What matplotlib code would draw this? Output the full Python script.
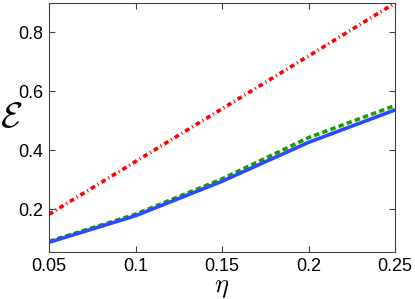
import matplotlib
matplotlib.use("Agg")
import matplotlib.pyplot as plt

plt.rcParams['font.family'] = ['Liberation Sans', 'DejaVu Sans']
plt.rcParams['mathtext.fontset'] = 'cm'

eta = [0.05, 0.1, 0.15, 0.2, 0.25]
blue = [0.088, 0.178, 0.295, 0.427, 0.537]
green = [0.091, 0.183, 0.303, 0.443, 0.552]
red = [0.183, 0.362, 0.541, 0.72, 0.9]

fig = plt.figure(figsize=(4.15, 2.99), dpi=100)
ax = fig.add_axes([49 / 415, 47 / 299, 346 / 415, 249 / 299])

ax.plot(eta, red, color='#ff0000', linewidth=2.6, dashes=[1.3, 0.9, 0.3, 0.9])
ax.plot(eta, green, color='#1a9e00', linewidth=2.6, dashes=[1.5, 0.9])
ax.plot(eta, blue, color='#2a4bff', linestyle='-', linewidth=2.6)

ax.set_xlim(0.05, 0.25)
ax.set_ylim(0.055, 0.9)
ax.set_xticks([0.05, 0.1, 0.15, 0.2, 0.25])
ax.set_xticklabels(['0.05', '0.1', '0.15', '0.2', '0.25'])
ax.set_yticks([0.2, 0.4, 0.6, 0.8])
ax.set_yticklabels(['0.2', '0.4', '0.6', '0.8'])
ax.tick_params(direction='in', top=True, right=True, labelsize=13,
               length=4, color='#444444', pad=4)
for s in ax.spines.values():
    s.set_color('#444444')

ax.set_xlabel(r'$\eta$', fontsize=19)
ax.xaxis.set_label_coords(0.5, -0.095)
ax.set_ylabel(r'$\mathcal{E}$', fontsize=26, rotation=0)
ax.yaxis.set_label_coords(-0.11, 0.47)

fig.savefig('out.png', dpi=100)
